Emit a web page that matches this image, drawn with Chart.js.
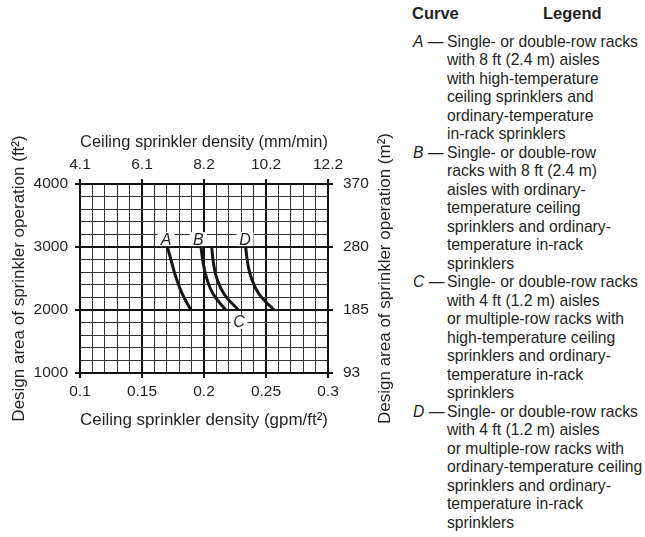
<!DOCTYPE html>
<html>
<head>
<meta charset="utf-8">
<title>Design area vs. ceiling sprinkler density</title>
<script src="https://cdn.jsdelivr.net/npm/chart.js@4"></script>
<style>
  html, body { margin: 0; padding: 0; background: #fff; }
  body {
    width: 645px; height: 537px; position: relative; overflow: hidden;
    font-family: 'Liberation Sans', Arial, Helvetica, sans-serif; color: #231f20;
  }
  #chart-box { position: absolute; left: 0; top: 0; width: 400px; height: 537px; }
  #legend { position: absolute; left: 412px; top: 0; width: 233px; height: 537px; }
  .legend-head { position: absolute; top: 4px; font-weight: bold; font-size: 16.5px; line-height: 18.5px; }
  .legend-entry { position: absolute; left: 0; width: 233px; font-size: 15.7px; line-height: 18.5px; white-space: nowrap; }
  .legend-key { position: absolute; left: 1px; top: 0; }
  .legend-text { position: absolute; left: 35px; top: 0; }
</style>
</head>
<body>
<div id="chart-box"><canvas id="density-chart"></canvas></div>
<div id="legend">
  <div class="legend-head" style="left:0">Curve</div>
  <div class="legend-head" style="left:131px">Legend</div>
</div>
<script>
// axis ranges and tick labels
const gpmMin = 0.1, gpmMax = 0.3, gpmStep = 0.01;
const areaMin = 1000, areaMax = 4000, areaStep = 200;
const gpmTicks = [0.1, 0.15, 0.2, 0.25, 0.3];
const gpmLabels = ['0.1', '0.15', '0.2', '0.25', '0.3'];
const mmLabels = ['4.1', '6.1', '8.2', '10.2', '12.2'];
const areaTicks = [1000, 2000, 3000, 4000];
const ft2Labels = ['1000', '2000', '3000', '4000'];
const m2Labels = ['93', '185', '280', '370'];

// curves: density (gpm/ft2) at each design area (ft2)
const curveNames = ['A', 'B', 'C', 'D'];
const curveArea = [3000, 2750, 2500, 2250, 2000];
const curveA = [0.1705, 0.174, 0.1777, 0.1826, 0.1895];
const curveB = [0.1976, 0.1993, 0.2022, 0.2075, 0.2175];
const curveC = [0.2062, 0.2076, 0.2104, 0.2163, 0.2277];
const curveD = [0.2336, 0.2352, 0.2383, 0.2445, 0.2565];

// where the curve letters sit on the grid
const nameX = [0.1694, 0.1954, 0.2282, 0.2331];
const nameY = [3125, 3125, 1815, 3125];

const legendLines = [
  ['Single- or double-row racks', 'with 8 ft (2.4 m) aisles', 'with high-temperature',
   'ceiling sprinklers and', 'ordinary-temperature', 'in-rack sprinklers'],
  ['Single- or double-row', 'racks with 8 ft (2.4 m)', 'aisles with ordinary-',
   'temperature ceiling', 'sprinklers and ordinary-', 'temperature in-rack', 'sprinklers'],
  ['Single- or double-row racks', 'with 4 ft (1.2 m) aisles', 'or multiple-row racks with',
   'high-temperature ceiling', 'sprinklers and ordinary-', 'temperature in-rack', 'sprinklers'],
  ['Single- or double-row racks', 'with 4 ft (1.2 m) aisles', 'or multiple-row racks with',
   'ordinary-temperature ceiling', 'sprinklers and ordinary-', 'temperature in-rack', 'sprinklers']
];

const FONT = "'Liberation Sans', Arial, Helvetica, sans-serif";
const INK = '#231f20';
const tickFont = { family: FONT, size: 15.5 };
const titleFont = { family: FONT, size: 17 };

// grid positions (every minor division)
const gpmGrid = [];
for (let i = 0; i <= Math.round((gpmMax - gpmMin) / gpmStep); i++) {
  gpmGrid.push(+(gpmMin + i * gpmStep).toFixed(2));
}
const areaGrid = [];
for (let v = areaMin; v <= areaMax; v += areaStep) { areaGrid.push(v); }

const near = (a, b) => Math.abs(a - b) < 1e-6;
const isMajor = (list, v) => list.some(t => near(t, v));
const labelFor = (v, values, labels) => {
  const i = values.findIndex(t => near(t, v));
  return i < 0 ? '' : labels[i];
};
const tickValue = ctx => (ctx && ctx.tick ? ctx.tick.value : NaN);

function gridOpts(majors, onArea) {
  return {
    drawOnChartArea: onArea,
    color: ctx => isMajor(majors, tickValue(ctx)) ? '#111' : '#333',
    lineWidth: ctx => isMajor(majors, tickValue(ctx)) ? 2 : 1,
    tickLength: 5,
    tickWidth: 2,
    tickColor: ctx => isMajor(majors, tickValue(ctx)) ? '#111' : 'rgba(0,0,0,0)'
  };
}

const border = { display: true, color: '#111', width: 2 };

const curveData = [curveA, curveB, curveC, curveD].map(xs =>
  xs.map((x, i) => ({ x: x, y: curveArea[i] })));

// curve letters with a white patch behind them
const curveLetters = {
  id: 'curveLetters',
  afterDatasetsDraw(chart) {
    const { ctx } = chart;
    const sx = chart.scales.x, sy = chart.scales.y;
    ctx.save();
    ctx.font = 'italic 16px ' + FONT;
    ctx.textAlign = 'center';
    ctx.textBaseline = 'middle';
    curveNames.forEach((name, i) => {
      const px = sx.getPixelForValue(nameX[i]);
      const py = sy.getPixelForValue(nameY[i]);
      ctx.fillStyle = '#fff';
      ctx.fillRect(px - 8.5, py - 7, 17, 14);
      ctx.fillStyle = INK;
      ctx.fillText(name, px, py + 1);
    });
    ctx.restore();
  }
};

// right-hand title reads bottom-to-top like the left one
const rightTitle = {
  id: 'rightTitle',
  afterDraw(chart) {
    const s = chart.scales.y2;
    const { ctx } = chart;
    ctx.save();
    ctx.translate(s.right - 15, (s.top + s.bottom) / 2);
    ctx.rotate(-Math.PI / 2);
    ctx.font = '17px ' + FONT;
    ctx.fillStyle = INK;
    ctx.textAlign = 'center';
    ctx.textBaseline = 'middle';
    ctx.fillText('Design area of sprinkler operation (m²)', 0, 0);
    ctx.restore();
  }
};

new Chart(document.getElementById('density-chart'), {
  type: 'scatter',
  data: {
    datasets: curveData.map((pts, i) => ({
      label: curveNames[i],
      data: pts,
      showLine: true,
      borderColor: '#151515',
      borderWidth: 3,
      borderCapStyle: 'butt',
      pointRadius: 0,
      tension: 0.45,
      fill: false
    }))
  },
  options: {
    responsive: true,
    maintainAspectRatio: false,
    devicePixelRatio: 1,
    animation: false,
    layout: { padding: { top: 120, bottom: 100, left: 0, right: 0 } },
    plugins: { legend: { display: false }, tooltip: { enabled: false } },
    scales: {
      x: {
        type: 'linear', position: 'bottom', min: gpmMin, max: gpmMax,
        afterBuildTicks: s => { s.ticks = gpmGrid.map(v => ({ value: v })); },
        afterFit: s => { s.height = 64; },
        grid: gridOpts(gpmTicks, true),
        border: border,
        ticks: {
          autoSkip: false, maxRotation: 0, padding: 4, font: tickFont, color: INK,
          callback: v => labelFor(v, gpmTicks, gpmLabels)
        },
        title: {
          display: true, text: 'Ceiling sprinkler density (gpm/ft²)',
          font: titleFont, color: INK, padding: { top: 0, bottom: 6 }
        }
      },
      x2: {
        type: 'linear', position: 'top', min: gpmMin, max: gpmMax,
        afterBuildTicks: s => { s.ticks = gpmTicks.map(v => ({ value: v })); },
        afterFit: s => { s.height = 64; },
        grid: gridOpts(gpmTicks, false),
        border: border,
        ticks: {
          autoSkip: false, maxRotation: 0, padding: 5, font: tickFont, color: INK,
          callback: v => labelFor(v, gpmTicks, mmLabels)
        },
        title: {
          display: true, text: 'Ceiling sprinkler density (mm/min)',
          font: titleFont, color: INK, padding: { top: 12, bottom: 0 }
        }
      },
      y: {
        type: 'linear', position: 'left', min: areaMin, max: areaMax,
        afterBuildTicks: s => { s.ticks = areaGrid.map(v => ({ value: v })); },
        afterFit: s => { s.width = 80; },
        grid: gridOpts(areaTicks, true),
        border: border,
        ticks: {
          autoSkip: false, padding: 7, font: tickFont, color: INK,
          callback: v => labelFor(v, areaTicks, ft2Labels)
        },
        title: {
          display: true, text: 'Design area of sprinkler operation (ft²)',
          font: titleFont, color: INK, padding: { top: 9, bottom: 0 }
        }
      },
      y2: {
        type: 'linear', position: 'right', min: areaMin, max: areaMax,
        afterBuildTicks: s => { s.ticks = areaTicks.map(v => ({ value: v })); },
        afterFit: s => { s.width = 72; },
        grid: gridOpts(areaTicks, false),
        border: border,
        ticks: {
          autoSkip: false, padding: 10, font: tickFont, color: INK,
          callback: v => labelFor(v, areaTicks, m2Labels)
        }
      }
    }
  },
  plugins: [curveLetters, rightTitle]
});

// legend block beside the chart
const legendBox = document.getElementById('legend');
let lineNo = 0;
legendLines.forEach((lines, i) => {
  const entry = document.createElement('div');
  entry.className = 'legend-entry';
  entry.style.top = (32.75 + lineNo * 18.5) + 'px';
  const key = document.createElement('div');
  key.className = 'legend-key';
  key.innerHTML = '<i>' + curveNames[i] + '</i> —';
  const text = document.createElement('div');
  text.className = 'legend-text';
  text.innerHTML = lines.join('<br>');
  entry.appendChild(key);
  entry.appendChild(text);
  legendBox.appendChild(entry);
  lineNo += lines.length;
});
</script>
</body>
</html>
